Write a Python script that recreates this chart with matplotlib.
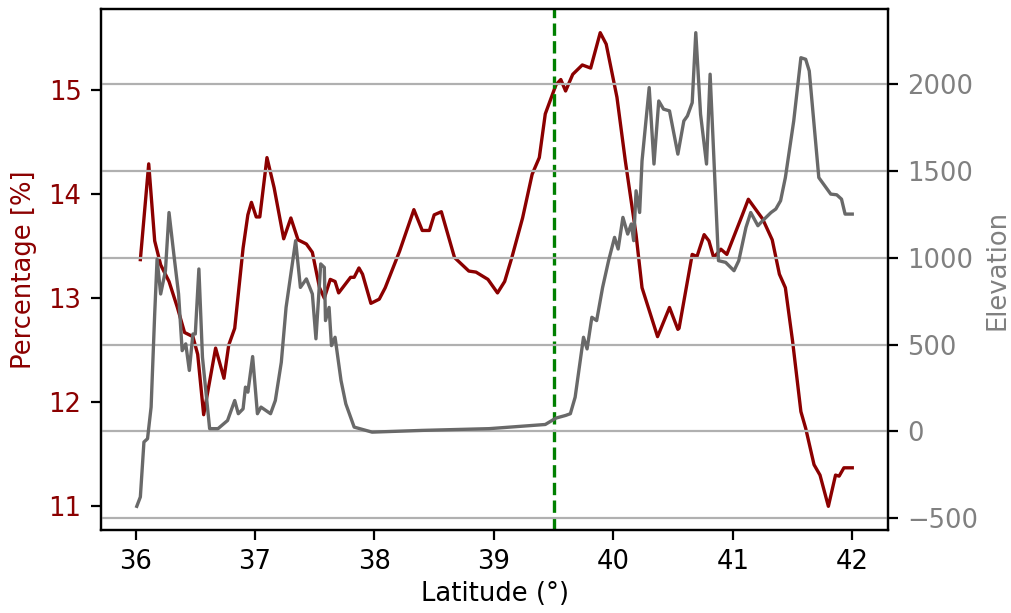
import numpy as np
import matplotlib
matplotlib.use("Agg")
import matplotlib.pyplot as plt

plt.rcParams["font.size"] = 9.3

# Percentage profile along latitude
lat_pct = [36.04, 36.11, 36.16, 36.21, 36.28, 36.35, 36.41, 36.48, 36.52, 36.57,
           36.62, 36.67, 36.74, 36.78, 36.83, 36.90, 36.94, 36.97, 37.01, 37.04,
           37.10, 37.16, 37.24, 37.30, 37.36, 37.43, 37.48, 37.54, 37.58, 37.63,
           37.67, 37.70, 37.80, 37.83, 37.87, 37.90, 37.97, 38.04, 38.09, 38.21,
           38.33, 38.40, 38.46, 38.50, 38.56, 38.67, 38.79, 38.85, 38.95, 39.03,
           39.09, 39.15, 39.24, 39.32, 39.38, 39.43, 39.52, 39.56, 39.60, 39.66,
           39.74, 39.81, 39.85, 39.89, 39.94, 40.03, 40.10, 40.19, 40.24, 40.37,
           40.47, 40.54, 40.55, 40.66, 40.70, 40.76, 40.80, 40.84, 40.90, 40.95,
           41.08, 41.13, 41.25, 41.33, 41.39, 41.44, 41.50, 41.57, 41.61, 41.68,
           41.73, 41.80, 41.86, 41.89, 41.93, 42.00]
pct = [13.37, 14.29, 13.55, 13.32, 13.16, 12.91, 12.67, 12.63, 12.46, 11.88,
       12.20, 12.52, 12.23, 12.55, 12.71, 13.48, 13.80, 13.92, 13.78, 13.78,
       14.35, 14.06, 13.57, 13.77, 13.56, 13.52, 13.44, 13.10, 13.00, 13.18,
       13.16, 13.05, 13.20, 13.20, 13.29, 13.23, 12.95, 12.99, 13.10, 13.45,
       13.85, 13.65, 13.65, 13.80, 13.83, 13.39, 13.26, 13.25, 13.18, 13.05,
       13.16, 13.39, 13.77, 14.19, 14.35, 14.77, 15.05, 15.10, 14.99, 15.15,
       15.24, 15.21, 15.38, 15.55, 15.44, 14.93, 14.32, 13.61, 13.10, 12.63,
       12.91, 12.70, 12.71, 13.42, 13.40, 13.61, 13.55, 13.39, 13.47, 13.42,
       13.80, 13.95, 13.76, 13.56, 13.23, 13.10, 12.59, 11.91, 11.75, 11.40,
       11.30, 11.00, 11.30, 11.29, 11.37, 11.37]

# Elevation profile along latitude
lat_elev = [36.01, 36.04, 36.07, 36.10, 36.13, 36.16, 36.18, 36.21, 36.25, 36.28,
            36.32, 36.36, 36.39, 36.42, 36.45, 36.48, 36.50, 36.53, 36.56, 36.62,
            36.69, 36.77, 36.83, 36.86, 36.90, 36.92, 36.94, 36.98, 37.02, 37.05,
            37.13, 37.17, 37.22, 37.26, 37.30, 37.34, 37.38, 37.43, 37.48, 37.51,
            37.55, 37.58, 37.59, 37.62, 37.64, 37.67, 37.72, 37.76, 37.83, 37.98,
            38.40, 38.96, 39.43, 39.52, 39.60, 39.64, 39.68, 39.75, 39.78, 39.82,
            39.86, 39.91, 39.96, 40.01, 40.04, 40.08, 40.12, 40.15, 40.17, 40.19,
            40.22, 40.24, 40.30, 40.34, 40.38, 40.42, 40.47, 40.54, 40.59, 40.62,
            40.66, 40.69, 40.73, 40.78, 40.81, 40.86, 40.88, 40.94, 41.01, 41.05,
            41.11, 41.15, 41.21, 41.25, 41.32, 41.36, 41.40, 41.44, 41.51, 41.57,
            41.61, 41.64, 41.72, 41.76, 41.82, 41.87, 41.91, 41.94, 42.00]
elev = [-431, -377, -61, -42, 140, 676, 992, 791, 925, 1260,
        1021, 791, 465, 504, 351, 561, 561, 935, 427, 16,
        16, 63, 178, 102, 130, 255, 226, 431, 102, 140,
        102, 178, 398, 714, 906, 1098, 829, 878, 791, 533,
        964, 944, 638, 714, 494, 542, 293, 159, 25, -4,
        6, 16, 40, 77, 92, 102, 197, 542, 475, 657,
        638, 829, 983, 1117, 1050, 1232, 1136, 1194, 1098, 1385,
        1260, 1557, 1979, 1539, 1902, 1855, 1845, 1596, 1787, 1816,
        1892, 2295, 1826, 1539, 2056, 1289, 983, 973, 925, 983,
        1174, 1260, 1184, 1213, 1260, 1280, 1328, 1461, 1787, 2151,
        2142, 2075, 1461, 1423, 1366, 1362, 1337, 1251, 1251]

split_lat = 39.5

fig = plt.figure(figsize=(5.06, 3.065), dpi=200)
ax1 = fig.add_axes([0.0998, 0.1354, 0.7777, 0.8499])
ax2 = ax1.twinx()

ax1.plot(lat_pct, pct, color="darkred", lw=1.2)
ax1.set_ylabel("Percentage [%]", color="darkred")
ax1.tick_params(axis="y", labelcolor="darkred")
ax1.set_xlabel("Latitude (°)", labelpad=2)

ax2.plot(lat_elev, elev, color="dimgray", lw=1.2)
ax2.set_ylabel("Elevation", color="gray", labelpad=2)
ax2.tick_params(axis="y", labelcolor="gray")
ax2.grid(True, axis="y")

ax1.axvline(split_lat, color="green", ls="--", lw=1.2)

fig.savefig("out.png", dpi=200)
